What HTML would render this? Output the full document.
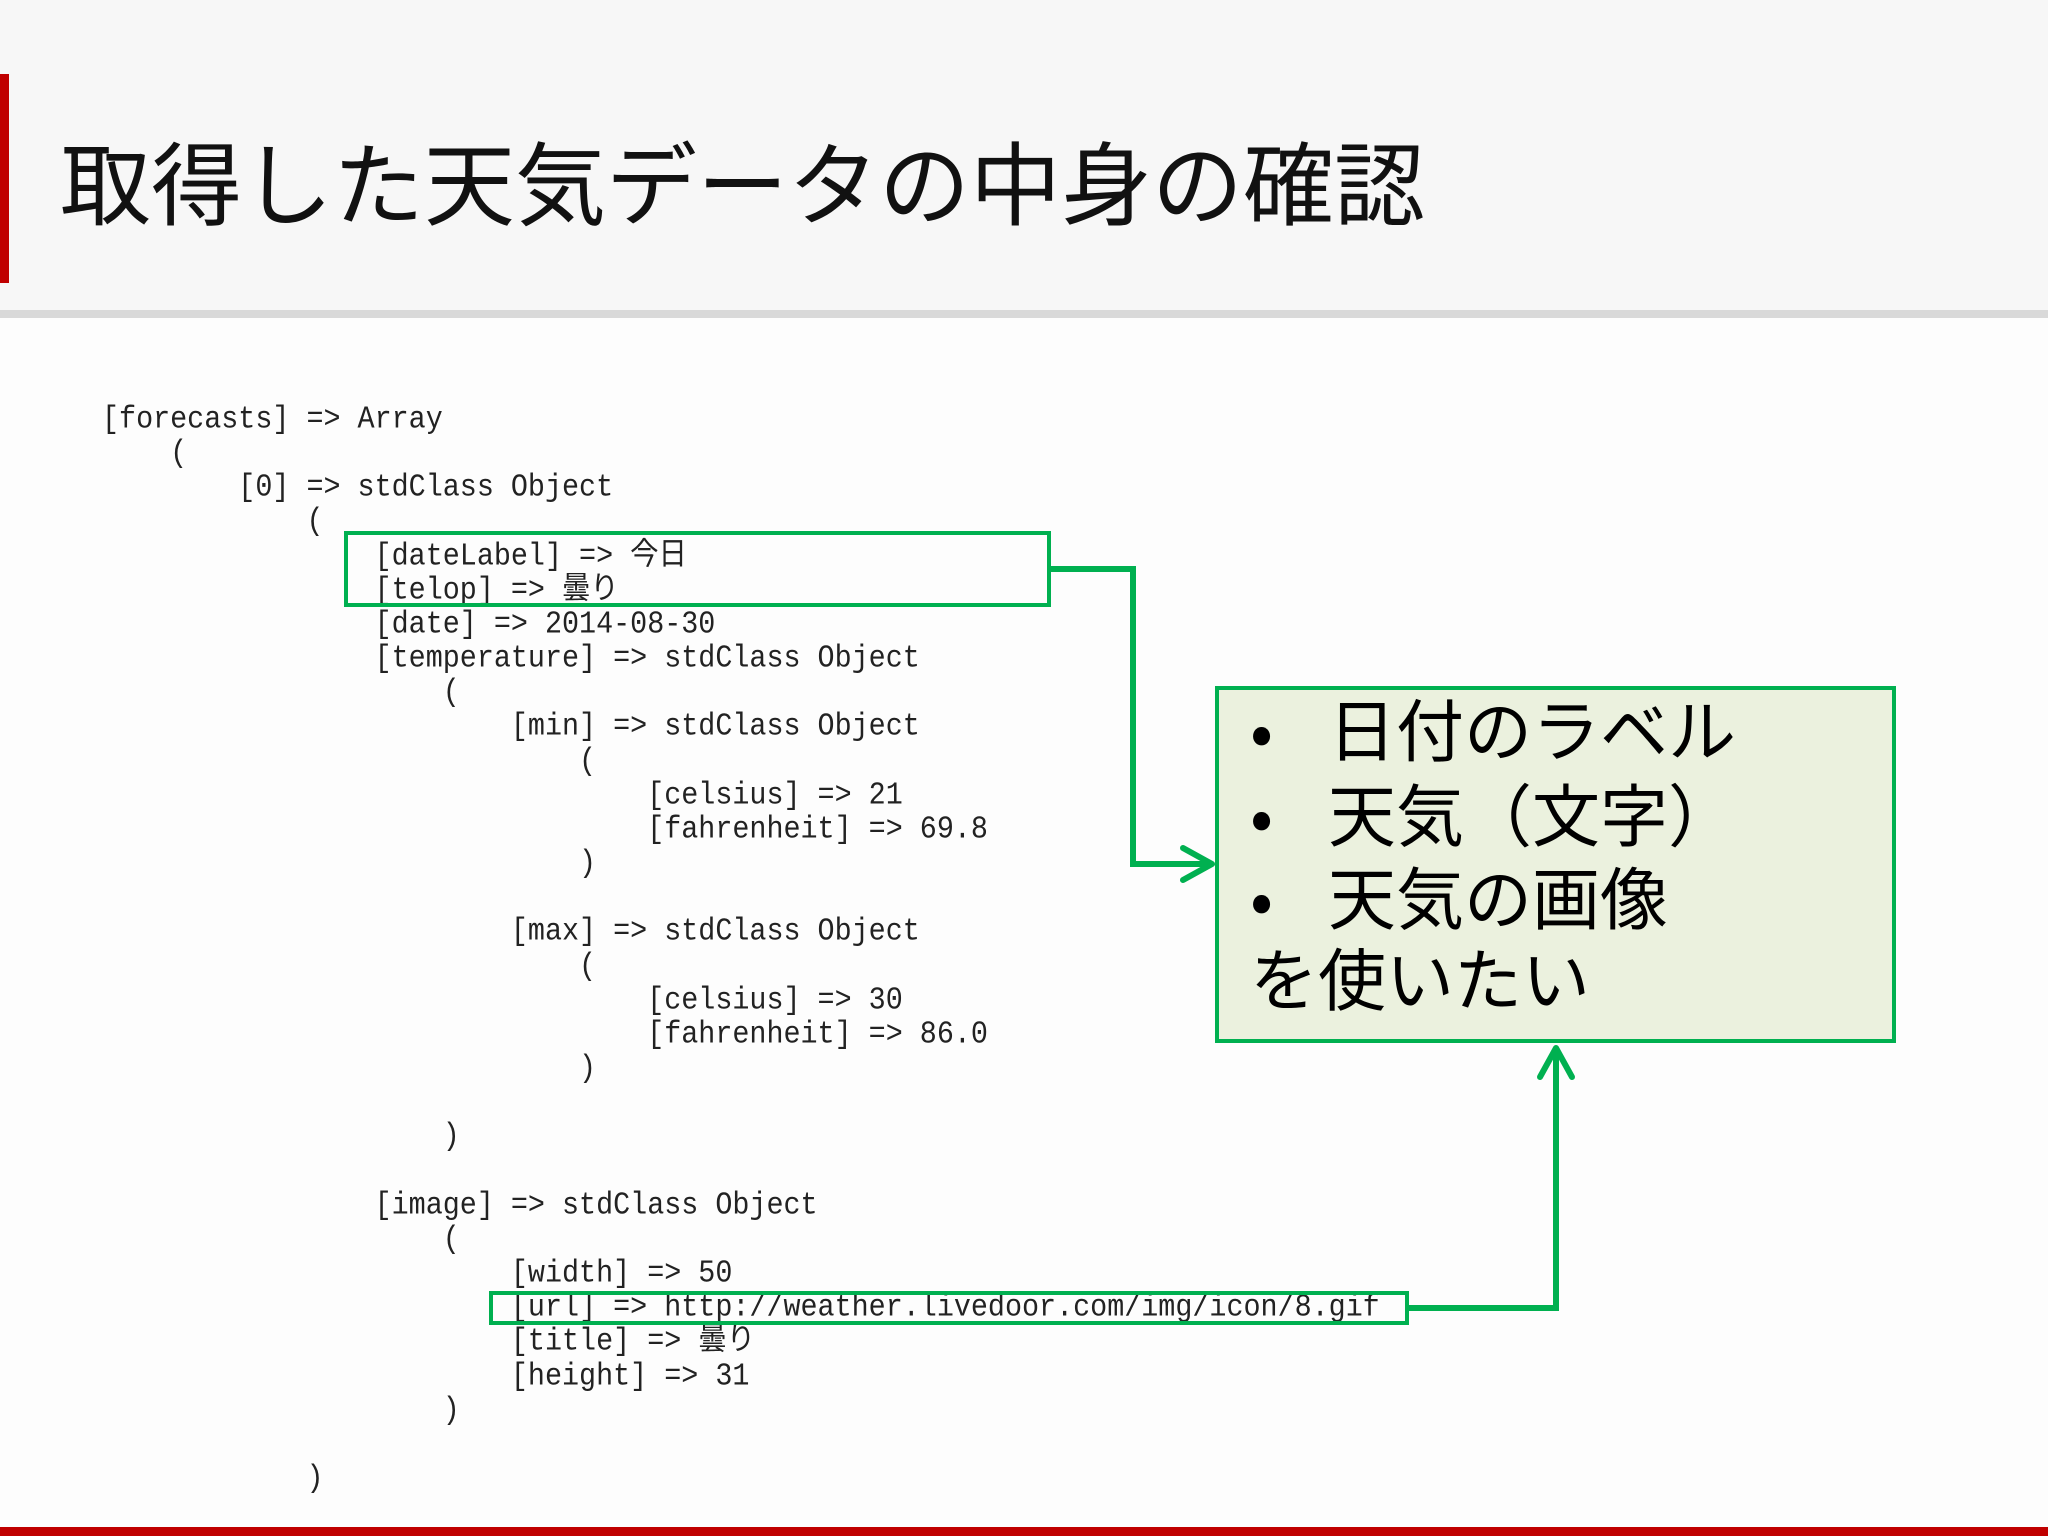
<!DOCTYPE html>
<html><head><meta charset="utf-8"><style>
body{margin:0;width:2048px;height:1536px;position:relative;overflow:hidden;background:#fdfdfd;font-family:"Liberation Sans","Noto Sans CJK JP",sans-serif}
.top{position:absolute;left:0;top:0;width:2048px;height:310px;background:#f7f7f7}
.red{position:absolute;left:0;top:74px;width:9px;height:209px;background:#c00000}
.gray{position:absolute;left:0;top:310px;width:2048px;height:8px;background:#d9d9d9}
.bot{position:absolute;left:0;top:1527px;width:2048px;height:9px;background:#c00000}
.title{position:absolute;left:60px;top:124px;font-size:91px;line-height:110px;color:#111;white-space:nowrap;font-family:"Noto Sans CJK JP",sans-serif}
.c{position:absolute;font-family:"Liberation Mono","Noto Sans CJK JP",monospace;font-size:28.4px;line-height:34px;white-space:pre;color:#222;transform:scaleY(1.1);transform-origin:left center;margin-top:3px}
.b{position:absolute;font-family:"Noto Sans CJK JP",sans-serif;font-size:68px;line-height:80px;white-space:pre;color:#000}
</style></head><body>
<div class="top"></div><div class="red"></div><div class="gray"></div><div class="bot"></div>
<div class="title">取得した天気データの中身の確認</div>
<div class="c" style="left:102px;top:400px">[forecasts] =&gt; Array</div>
<div class="c" style="left:102px;top:434px">    (</div>
<div class="c" style="left:102px;top:468px">        [0] =&gt; stdClass Object</div>
<div class="c" style="left:102px;top:502px">            (</div>
<div class="c" style="left:102px;top:537px">                [dateLabel] =&gt; 今日</div>
<div class="c" style="left:102px;top:571px">                [telop] =&gt; 曇り</div>
<div class="c" style="left:102px;top:605px">                [date] =&gt; 2014-08-30</div>
<div class="c" style="left:102px;top:639px">                [temperature] =&gt; stdClass Object</div>
<div class="c" style="left:102px;top:673px">                    (</div>
<div class="c" style="left:102px;top:707px">                        [min] =&gt; stdClass Object</div>
<div class="c" style="left:102px;top:742px">                            (</div>
<div class="c" style="left:102px;top:776px">                                [celsius] =&gt; 21</div>
<div class="c" style="left:102px;top:810px">                                [fahrenheit] =&gt; 69.8</div>
<div class="c" style="left:102px;top:844px">                            )</div>
<div class="c" style="left:102px;top:912px">                        [max] =&gt; stdClass Object</div>
<div class="c" style="left:102px;top:947px">                            (</div>
<div class="c" style="left:102px;top:981px">                                [celsius] =&gt; 30</div>
<div class="c" style="left:102px;top:1015px">                                [fahrenheit] =&gt; 86.0</div>
<div class="c" style="left:102px;top:1049px">                            )</div>
<div class="c" style="left:102px;top:1117px">                    )</div>
<div class="c" style="left:102px;top:1186px">                [image] =&gt; stdClass Object</div>
<div class="c" style="left:102px;top:1220px">                    (</div>
<div class="c" style="left:102px;top:1254px">                        [width] =&gt; 50</div>
<div class="c" style="left:102px;top:1288px">                        [url] =&gt; http://weather.livedoor.com/img/icon/8.gif</div>
<div class="c" style="left:102px;top:1322px">                        [title] =&gt; 曇り</div>
<div class="c" style="left:102px;top:1357px">                        [height] =&gt; 31</div>
<div class="c" style="left:102px;top:1391px">                    )</div>
<div class="c" style="left:102px;top:1459px">            )</div>
<svg style="position:absolute;left:0;top:0" width="2048" height="1536">
<rect x="1217" y="688" width="677" height="353" fill="#ebf1de" stroke="#00b050" stroke-width="4"/>
<rect x="346" y="533" width="703" height="72" fill="none" stroke="#00b050" stroke-width="4"/>
<rect x="491" y="1293" width="916" height="30" fill="none" stroke="#00b050" stroke-width="4"/>
<polyline points="1050,569 1133,569 1133,864 1210,864" fill="none" stroke="#00b050" stroke-width="6"/>
<polyline points="1183,848 1212,864 1183,880" fill="none" stroke="#00b050" stroke-width="6" stroke-linecap="round" stroke-linejoin="round"/>
<polyline points="1408,1308 1556,1308 1556,1050" fill="none" stroke="#00b050" stroke-width="6"/>
<polyline points="1540,1077 1556,1048 1572,1077" fill="none" stroke="#00b050" stroke-width="6" stroke-linecap="round" stroke-linejoin="round"/>
</svg>
<div class="b" style="left:1250px;top:687px">•</div>
<div class="b" style="left:1250px;top:772px">•</div>
<div class="b" style="left:1250px;top:855px">•</div>
<div class="b" style="left:1328px;top:687px">日付のラベル</div>
<div class="b" style="left:1328px;top:772px">天気（文字）</div>
<div class="b" style="left:1328px;top:855px">天気の画像</div>
<div class="b" style="left:1250px;top:936px">を使いたい</div>
</body></html>
